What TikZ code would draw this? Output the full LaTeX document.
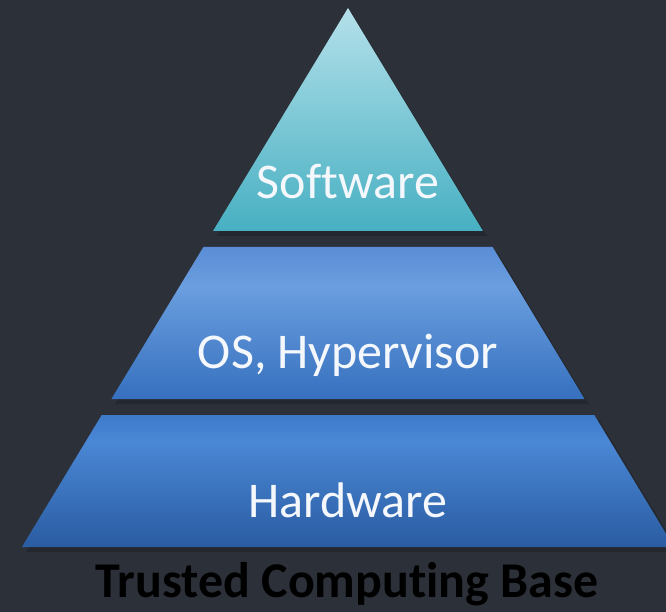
\documentclass[tikz,border=0pt]{standalone}
\usepackage{fontspec}
\setmainfont{Carlito}[Ligatures=NoCommon]
\definecolor{bgcol}{HTML}{2C3038}
\definecolor{swtop}{HTML}{B4E0EA}
\definecolor{swbot}{HTML}{47B0C2}
\definecolor{ostop}{HTML}{5A8DD5}
\definecolor{oslight}{HTML}{6A9EDF}
\definecolor{osbot}{HTML}{3670BE}
\definecolor{hwtop}{HTML}{3F7BCB}
\definecolor{hwlight}{HTML}{4A87D5}
\definecolor{hwbot}{HTML}{2A5CA2}
\definecolor{txtcol}{HTML}{F4F8FC}
\pgfdeclareverticalshading{osshade}{100bp}{color(0bp)=(osbot); color(25bp)=(osbot); color(62bp)=(oslight); color(75bp)=(ostop); color(100bp)=(ostop)}
\pgfdeclareverticalshading{hwshade}{100bp}{color(0bp)=(hwbot); color(25bp)=(hwbot); color(65bp)=(hwlight); color(75bp)=(hwtop); color(100bp)=(hwtop)}
\tikzset{
  lbl/.style={text=txtcol, font=\fontsize{50}{56}\selectfont, anchor=base, inner sep=0pt},
  caption/.style={text=black, font=\bfseries\fontsize{50}{56}\selectfont, anchor=base, inner sep=0pt},
  shadowfill/.style={fill=black, opacity=0.18},
}
\begin{document}
\begin{tikzpicture}[x=1pt,y=-1pt]
\useasboundingbox (0,0) rectangle (666,612);
\clip (0,0) rectangle (666,612);
\fill[bgcol] (0,0) rectangle (666,612);
% soft shadows
\fill[shadowfill] (351,12) -- (487,236) -- (217,236) -- cycle;
\fill[shadowfill] (207,252) -- (497,252) -- (589,404) -- (115,404) -- cycle;
\fill[shadowfill] (106,420) -- (599,420) -- (679,552) -- (26,552) -- cycle;
% software
\shade[top color=swtop, bottom color=swbot] (348,8) -- (483,231) -- (213,231) -- cycle;
% os
\shade[shading=osshade] (203.4,247) -- (492.6,247) -- (584.6,399) -- (111.4,399) -- cycle;
% hardware
\shade[shading=hwshade] (101.7,415) -- (594.3,415) -- (674.1,547) -- (21.9,547) -- cycle;
\node[lbl] (sw) at (348,199) {Software};
\node[lbl] (os) at (348,368) {OS, Hypervisor};
\node[lbl] (hw) at (348,517) {Hardware};
\node[caption] (tcb) at (347,597) {Trusted Computing Base};
\end{tikzpicture}
\end{document}
